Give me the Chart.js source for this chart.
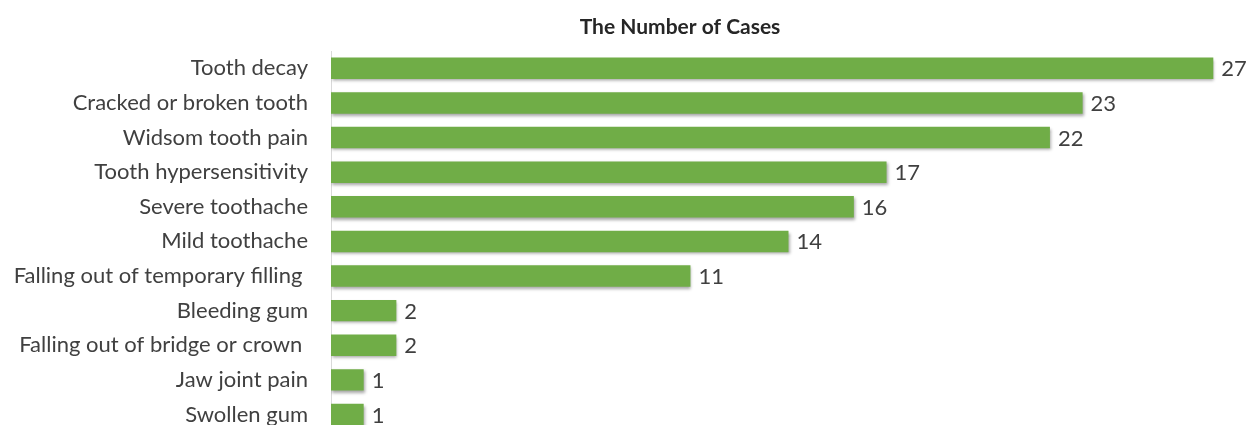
<!DOCTYPE html>
<html>
<head>
<meta charset="utf-8">
<script src="https://cdn.jsdelivr.net/npm/chart.js@4"></script>
<style>
  html, body { margin: 0; padding: 0; background: #ffffff; overflow: hidden; }
  #wrap { width: 1254px; height: 425px; overflow: hidden; }
</style>
</head>
<body>
<div id="wrap"><canvas id="barChart" width="1254" height="460"></canvas></div>
<script>
// Data
const categories = [
    'Tooth decay',
    'Cracked or broken tooth',
    'Widsom tooth pain',
    'Tooth hypersensitivity',
    'Severe toothache',
    'Mild toothache',
    'Falling out of temporary filling ',
    'Bleeding gum',
    'Falling out of bridge or crown ',
    'Jaw joint pain',
    'Swollen gum'
];
const caseCounts = [27, 23, 22, 17, 16, 14, 11, 2, 2, 1, 1];
const chartTitle = 'The Number of Cases';

const FONT = 'Lato, "Open Sans", sans-serif';
const TEXT_COLOR = '#404040';

// Green gradient bar fill, lighter at top, like the office style
function barFill(context) {
    const chart = context.chart;
    const el = context.element;
    if (!el || el.y === undefined || !chart.chartArea) return '#70ad47';
    const half = el.height / 2;
    const g = chart.ctx.createLinearGradient(0, el.y - half, 0, el.y + half);
    g.addColorStop(0, '#80be54');
    g.addColorStop(0.5, '#70ad47');
    g.addColorStop(1, '#5e9a36');
    return g;
}

// Soft shadow under the bars
const shadowPlugin = {
    id: 'barShadow',
    beforeDatasetDraw(chart) {
        const ctx = chart.ctx;
        ctx.save();
        ctx.shadowColor = 'rgba(0,0,0,0.35)';
        ctx.shadowBlur = 3;
        ctx.shadowOffsetX = 1;
        ctx.shadowOffsetY = 2;
    },
    afterDatasetDraw(chart) {
        chart.ctx.restore();
    }
};

// Value labels at the end of each bar + the title
const labelPlugin = {
    id: 'valueLabels',
    afterDraw(chart) {
        const ctx = chart.ctx;
        const meta = chart.getDatasetMeta(0);
        ctx.save();
        ctx.font = '22px ' + FONT;
        ctx.fillStyle = TEXT_COLOR;
        ctx.textAlign = 'left';
        ctx.textBaseline = 'middle';
        meta.data.forEach((bar, i) => {
            ctx.fillText(String(caseCounts[i]), bar.x + 8, bar.y + 1);
        });
        ctx.font = 'bold 21px ' + FONT;
        ctx.fillStyle = '#262626';
        ctx.textAlign = 'center';
        ctx.fillText(chartTitle, 680, 27);
        ctx.restore();
    }
};

function initializeChart() {
    const canvas = document.getElementById('barChart');
    if (!canvas) return;
    new Chart(canvas.getContext('2d'), {
        type: 'bar',
        data: {
            labels: categories,
            datasets: [{
                label: chartTitle,
                data: caseCounts,
                backgroundColor: barFill,
                borderWidth: 0,
                barPercentage: 0.62,
                categoryPercentage: 1
            }]
        },
        options: {
            indexAxis: 'y',
            responsive: false,
            animation: false,
            devicePixelRatio: 1,
            layout: { padding: { top: 51, right: 8, bottom: 0, left: 0 } },
            plugins: {
                legend: { display: false },
                title: { display: false },
                tooltip: { enabled: false }
            },
            scales: {
                x: {
                    display: false,
                    min: 0,
                    max: 28
                },
                y: {
                    afterFit(scale) { scale.width = 331; },
                    grid: { display: false },
                    border: { display: true, color: '#d9d9d9', width: 1 },
                    ticks: {
                        color: TEXT_COLOR,
                        padding: 15,
                        font: { family: FONT, size: 22 }
                    }
                }
            }
        },
        plugins: [shadowPlugin, labelPlugin]
    });
}

document.addEventListener('DOMContentLoaded', initializeChart);
</script>
</body>
</html>
